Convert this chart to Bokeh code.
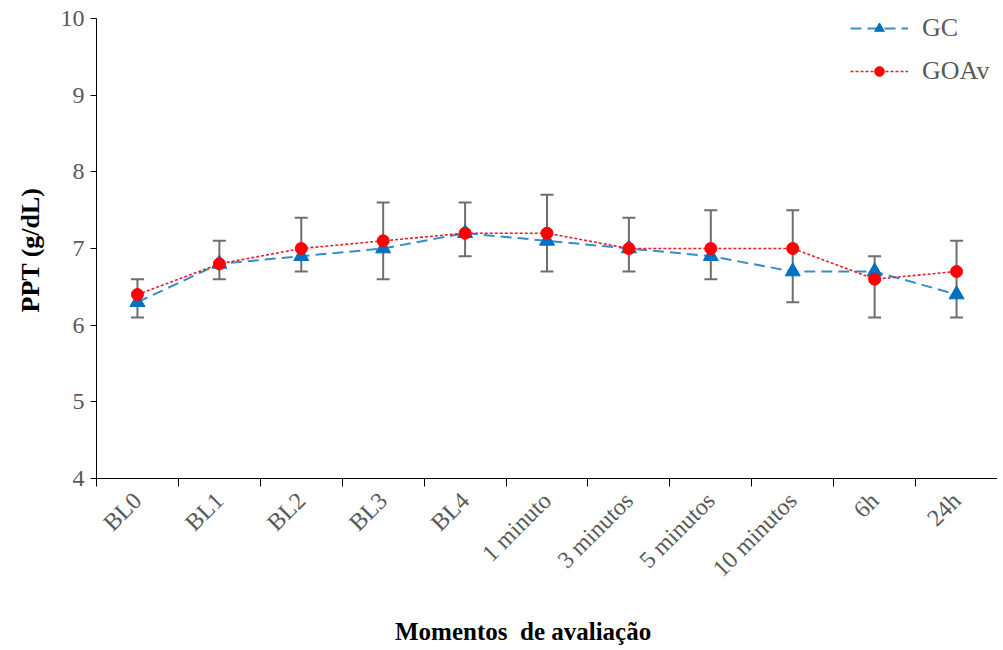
import math
from bokeh.plotting import figure
from bokeh.layouts import column
from bokeh.models import (ColumnDataSource, Range1d, FixedTicker, Whisker, TeeHead,
                          Legend, LegendItem, Title, Div)
from bokeh.embed import file_html
from bokeh.resources import INLINE

categories = ["BL0", "BL1", "BL2", "BL3", "BL4", "1 minuto", "3 minutos",
              "5 minutos", "10 minutos", "6h", "24h"]
gc_values = [6.3, 6.8, 6.9, 7.0, 7.2, 7.1, 7.0, 6.9, 6.7, 6.7, 6.4]
goav_values = [6.4, 6.8, 7.0, 7.1, 7.2, 7.2, 7.0, 7.0, 7.0, 6.6, 6.7]
err_upper = [6.6, 7.1, 7.4, 7.6, 7.6, 7.7, 7.4, 7.5, 7.5, 6.9, 7.1]
err_lower = [6.1, 6.6, 6.7, 6.6, 6.9, 6.7, 6.7, 6.6, 6.3, 6.1, 6.1]
y_ticks = [4, 5, 6, 7, 8, 9, 10]
x_title = "Momentos  de avaliação"
y_title = "PPT (g/dL)"

xs = [i + 0.5 for i in range(len(categories))]
src = ColumnDataSource(dict(x=xs, gc=gc_values, goav=goav_values,
                            up=err_upper, lo=err_lower))

FONT = "Liberation Serif"
GRAY = "#595959"

p = figure(width=997, height=610, output_backend="svg", toolbar_location=None,
           x_range=Range1d(0, len(categories)), y_range=Range1d(4, 10.235),
           min_border_left=96, min_border_right=0, min_border_top=0,
           min_border_bottom=132)
p.outline_line_color = None
p.xgrid.visible = False
p.ygrid.visible = False
p.background_fill_color = "white"
p.border_fill_color = "white"

# error bars
wh = Whisker(source=src, base="x", upper="up", lower="lo", dimension="height",
             line_color="#6e6e6e", line_width=2,
             upper_head=TeeHead(size=13, line_color="#6e6e6e", line_width=2),
             lower_head=TeeHead(size=13, line_color="#6e6e6e", line_width=2),
             level="underlay")
p.add_layout(wh)

gc_line = p.line("x", "gc", source=src, line_color="#3a8cc6", line_width=2,
                 line_dash="11 6")
gc_mark = p.scatter("x", "gc", source=src, marker="triangle", size=15,
                    fill_color="#0070c0", line_color="#0070c0")
goav_line = p.line("x", "goav", source=src, line_color="#e0202a", line_width=1.6,
                   line_dash="3 2")
goav_mark = p.scatter("x", "goav", source=src, marker="circle", size=12,
                      fill_color="#ff0000", line_color="#ff0000")

# axes
xa = p.xaxis[0]
xa.ticker = FixedTicker(ticks=xs, minor_ticks=list(range(len(categories) + 1)))
xa.major_label_overrides = {x: c for x, c in zip(xs, categories)}
xa.major_tick_out = 0
xa.major_tick_in = 0
xa.minor_tick_out = 8
xa.minor_tick_in = 0
xa.minor_tick_line_color = "black"
xa.axis_line_color = "black"
xa.major_label_orientation = math.pi / 4
xa.major_label_text_font = FONT
xa.major_label_text_font_size = "24px"
xa.major_label_text_color = GRAY
xa.major_label_standoff = 10

ya = p.yaxis[0]
ya.ticker = FixedTicker(ticks=y_ticks)
ya.bounds = (4, 10)
ya.minor_tick_line_color = None
ya.major_tick_out = 6
ya.major_tick_in = 0
ya.axis_line_color = "black"
ya.major_tick_line_color = "black"
ya.major_label_text_font = FONT
ya.major_label_text_font_size = "24px"
ya.major_label_text_color = GRAY
ya.major_label_standoff = 6

# y-axis title as a side title, placed like the original
p.add_layout(Title(text=y_title, align="left", offset=166, standoff=26,
                   text_font=FONT, text_font_style="bold", text_font_size="26px",
                   text_color="black"), "left")

common = dict(border_line_color=None, background_fill_alpha=0, padding=0, margin=0,
              glyph_width=58, glyph_height=24, label_height=24, spacing=0,
              label_standoff=14, label_text_font=FONT,
              label_text_font_size="26px", label_text_color=GRAY)
legend_gc = Legend(items=[LegendItem(label="GC", renderers=[gc_line, gc_mark])],
                   location=(754, 435), **common)
legend_goav = Legend(items=[LegendItem(label="GOAv", renderers=[goav_line, goav_mark])],
                     location=(754, 392), **common)
p.add_layout(legend_gc)
p.add_layout(legend_goav)

# x-axis title below the plot, offset to the left like the original
xt = Div(text=x_title, width=300, height=30, margin=(9, 0, 0, 395),
         styles={"font-family": FONT, "font-size": "25px", "font-weight": "bold",
                 "color": "black", "line-height": "1", "white-space": "pre"})

layout = column(p, xt, spacing=0)
open("out.html", "w").write(file_html(layout, INLINE))
